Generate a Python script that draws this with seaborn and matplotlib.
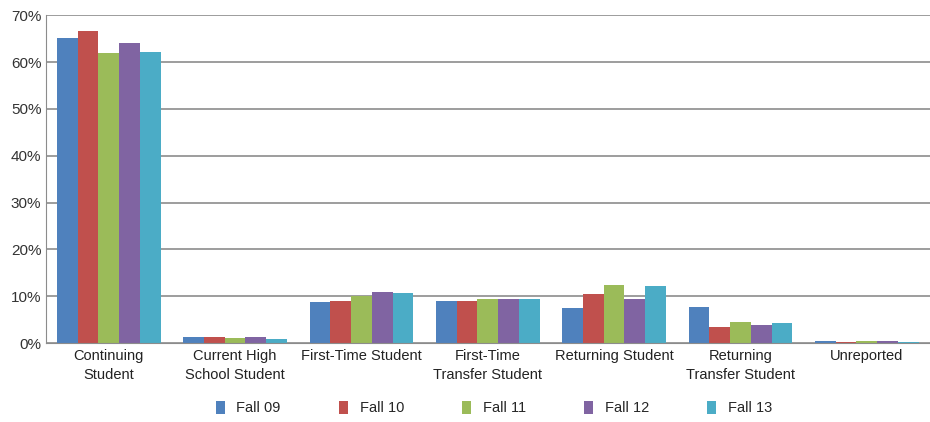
import numpy as np
import pandas as pd
import seaborn as sns
import matplotlib.pyplot as plt
from matplotlib.ticker import PercentFormatter

categories = ['Continuing\nStudent', 'Current High\nSchool Student', 'First-Time Student',
              'First-Time\nTransfer Student', 'Returning Student',
              'Returning\nTransfer Student', 'Unreported']
terms = ['Fall 09', 'Fall 10', 'Fall 11', 'Fall 12', 'Fall 13']

fall09 = [65.2, 1.3, 8.8, 8.9, 7.5, 7.8, 0.45]
fall10 = [66.6, 1.2, 9.0, 8.9, 10.5, 3.5, 0.15]
fall11 = [62.0, 1.1, 10.0, 9.5, 12.4, 4.6, 0.35]
fall12 = [64.0, 1.3, 11.0, 9.5, 9.5, 3.8, 0.4]
fall13 = [62.2, 0.9, 10.7, 9.5, 12.2, 4.2, 0.3]

colors = ['#4F81BD', '#C0504D', '#9BBB59', '#8064A2', '#4BACC6']

# long form table for seaborn
rows = []
for term, vals in zip(terms, [fall09, fall10, fall11, fall12, fall13]):
    for cat, v in zip(categories, vals):
        rows.append({'category': cat, 'term': term, 'pct': v})
df = pd.DataFrame(rows)

sns.set_style('white')
plt.rcParams['font.family'] = ['Liberation Sans', 'DejaVu Sans']

fig = plt.figure(figsize=(9.3, 4.22), dpi=100)
ax = fig.add_axes([0.049, 0.187, 0.951, 0.777])

sns.barplot(data=df, x='category', y='pct', hue='term', order=categories,
            hue_order=terms, palette=colors, width=0.82, saturation=1,
            edgecolor='none', ax=ax)

ax.set_ylim(0, 70)
ax.set_xlim(-0.5, 6.5)
ax.set_yticks(np.arange(0, 71, 10))
ax.yaxis.set_major_formatter(PercentFormatter(decimals=0))
ax.yaxis.grid(True, color='#8c8c8c', linewidth=1.2)
ax.set_axisbelow(True)
ax.set_xlabel('')
ax.set_ylabel('')
for s in ['top', 'right']:
    ax.spines[s].set_visible(False)
ax.spines['left'].set_color('#8c8c8c')
ax.spines['bottom'].set_color('#8c8c8c')
ax.tick_params(axis='y', labelsize=11, colors='#333333', length=0, pad=3)
ax.tick_params(axis='x', labelsize=10.5, colors='#222222', length=0, pad=4)
for lbl in ax.get_xticklabels():
    lbl.set_linespacing(1.5)

ax.legend(loc='center', bbox_to_anchor=(0.507, -0.198), ncol=5, frameon=False,
          fontsize=10.5, handlelength=0.6, handleheight=1.0, columnspacing=4.0,
          handletextpad=0.8)

fig.savefig('out.png', dpi=100)
